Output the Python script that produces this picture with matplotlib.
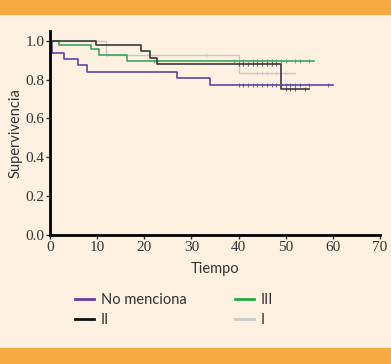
import matplotlib.pyplot as plt
import numpy as np
from matplotlib.patches import Rectangle
from matplotlib.lines import Line2D

# curvas de supervivencia (tiempo, supervivencia) - escalones
t_nm = [0, 0.5, 3.0, 6.0, 7.9, 26.9, 33.9, 60]
s_nm = [1.0, 0.937, 0.907, 0.873, 0.840, 0.808, 0.773, 0.773]
cens_nm = [40, 41, 42, 43, 44, 45, 46, 47, 48, 49, 50, 51, 52, 53, 55, 59]

t_ii = [0, 9.8, 19.4, 21.2, 22.8, 49.1, 55]
s_ii = [1.0, 0.976, 0.945, 0.91, 0.88, 0.75, 0.75]
cens_ii = [40, 41, 42, 43, 44, 45, 46, 47, 48, 50, 51, 52, 54]

t_iii = [0, 2.0, 8.8, 10.3, 16.3, 56]
s_iii = [1.0, 0.979, 0.957, 0.928, 0.897, 0.897]
cens_iii = [22, 39, 41, 43, 44, 45, 46, 47, 48, 49, 50, 52, 53, 55]

t_i = [0, 11.9, 40.0, 52]
s_i = [1.0, 0.928, 0.835, 0.835]
cens_i = [12, 33, 44, 45, 46, 48, 50]

c_nm = '#5a47a0'
c_ii = '#3a3a3a'
c_iii = '#3aa85a'
c_i = '#c8c8c8'
bg = '#fef1e2'
orange = '#f7a941'

fig = plt.figure(figsize=(3.91, 3.64), dpi=100)
fig.patch.set_facecolor(bg)
fig.patches.append(Rectangle((0, 1 - 14/364), 1, 14/364, transform=fig.transFigure,
                             color=orange, zorder=0))
fig.patches.append(Rectangle((0, 0), 1, 16/364, transform=fig.transFigure,
                             color=orange, zorder=0))

ax = fig.add_axes([50/391, 1 - 235/364, 330/391, 204/364])
ax.set_facecolor(bg)


def km(t, s, cens, color, lw, ms):
    ax.step(t, s, where='post', color=color, lw=lw)
    t = np.array(t)
    s = np.array(s)
    ys = [s[np.searchsorted(t, c, side='right') - 1] for c in cens]
    ax.plot(cens, ys, '|', color=color, ms=ms, mew=0.8, alpha=0.8)


km(t_i, s_i, cens_i, c_i, 1.0, 2.5)
km(t_iii, s_iii, cens_iii, c_iii, 1.2, 2.5)
km(t_ii, s_ii, cens_ii, c_ii, 1.2, 3)
km(t_nm, s_nm, cens_nm, c_nm, 1.2, 2.5)

ax.set_xlim(0, 70)
ax.set_ylim(0, 1.05)
ax.set_xticks(range(0, 71, 10))
ax.set_yticks([0, 0.2, 0.4, 0.6, 0.8, 1.0])
ax.set_yticklabels(['0.0', '0.2', '0.4', '0.6', '0.8', '1.0'])
for sp in ['top', 'right']:
    ax.spines[sp].set_visible(False)
for sp in ['left', 'bottom']:
    ax.spines[sp].set_linewidth(2)
ax.tick_params(labelsize=11, width=1, length=3, pad=1, colors='#333333')
for lab in ax.get_xticklabels() + ax.get_yticklabels():
    lab.set_family('Liberation Serif')
ax.margins(0)

ax.set_xlabel('Tiempo', fontsize=10.5, family='Lato', color='#333333', labelpad=6)
ax.set_ylabel('Supervivencia', fontsize=10.5, family='Lato', color='#333333', labelpad=2)

handles = [Line2D([], [], color='#6a3aa0', lw=2),
           Line2D([], [], color='#111111', lw=2),
           Line2D([], [], color='#22aa44', lw=2),
           Line2D([], [], color='#c8c8c8', lw=2)]
labels = ['No menciona', 'II', 'III', 'I']
fig.legend(handles, labels, ncol=2, loc='center', bbox_to_anchor=(0.445, 1 - 310/364),
           frameon=False, handlelength=1.3, handletextpad=0.5, columnspacing=3.3,
           labelspacing=0.45, prop={'family': 'Lato', 'size': 10.5}, labelcolor='#333333')

fig.savefig('out.png', dpi=100, facecolor=bg)
